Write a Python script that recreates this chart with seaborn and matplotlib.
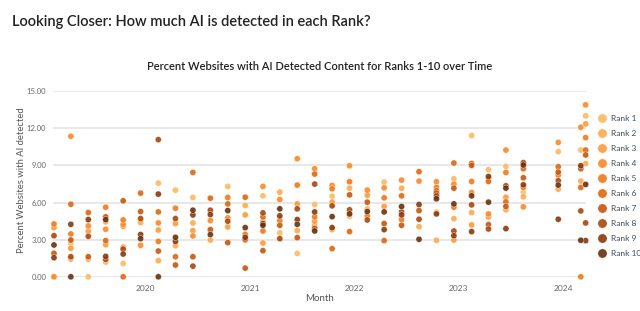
import numpy as np
import pandas as pd
import matplotlib
matplotlib.use("Agg")
import matplotlib.pyplot as plt
import matplotlib.dates as mdates
import seaborn as sns

nan = np.nan

# sample dates (every second month, then the last few snapshots)
months = ['2019-02-15', '2019-04-15', '2019-06-15', '2019-08-15', '2019-10-15', '2019-12-15',
          '2020-02-15', '2020-04-15', '2020-06-15', '2020-08-15', '2020-10-15', '2020-12-15',
          '2021-02-15', '2021-04-15', '2021-06-15', '2021-08-15', '2021-10-15', '2021-12-15',
          '2022-02-15', '2022-04-15', '2022-06-15', '2022-08-15', '2022-10-15', '2022-12-15',
          '2023-02-15', '2023-04-15', '2023-06-15', '2023-08-15', '2023-12-15',
          '2024-03-03', '2024-03-20']

rank1 = [0, 2.68, 0, 1.19, 1.08, nan, 7.57, 7.0, 6.41, nan, 7.30, nan, 6.54, 3.54, 1.89, 5.84,
         6.51, 4.89, 5.49, 7.65, nan, nan, 5.22, 7.92, 11.41, 8.65, 8.92, 6.84, 10.11, 10.24, 13.0]
rank2 = [nan, 1.43, 1.43, 4.43, 2.41, 4.38, 1.30, 2.51, 4.35, 2.97, nan, 5.76, 4.51, 6.84, 3.73, 4.19,
         3.81, 7.16, nan, nan, 7.16, 4.05, 2.95, 4.70, 5.19, nan, 5.41, 6.46, 7.08, 7.73, 9.14]
rank3 = [3.97, 2.30, 3.68, 2.59, 4.08, nan, 3.78, 4.30, 3.73, nan, 4.03, 5.0, 2.73, nan, 5.89, 4.49,
         6.03, nan, 6.59, 5.68, nan, nan, nan, 2.97, 4.19, 4.84, 6.43, nan, nan, nan, 12.35]
rank4 = [0, 11.35, 4.11, 3.84, 4.24, 2.54, 4.35, nan, 3.30, 4.54, 4.76, 2.95, 7.30, 6.24, 9.54, 8.73,
         7.38, 8.97, 7.0, 7.19, 7.81, 7.73, 7.68, 7.49, 6.81, 5.08, 10.24, 5.65, 10.86, 12.08, 13.89]
rank5 = [4.27, 3.46, nan, 5.62, 4.59, nan, 2.86, 5.54, nan, nan, 6.41, 3.43, 3.70, 4.54, 7.41, 4.84,
         7.11, 7.68, 4.92, 6.38, 4.62, nan, 7.22, 5.62, 7.70, 7.97, 8.43, 7.22, 8.22, 0, 11.24]
rank6 = [nan, 5.86, 5.19, 2.92, 0, 6.76, 5.24, 1.62, 8.43, 6.35, 5.89, 6.43, 4.84, nan, nan, 8.30,
         2.27, 3.65, nan, 2.92, 6.54, 8.49, 6.95, 9.19, 9.16, 7.70, 6.05, 8.73, 8.89, 7.22, 10.24]
rank7 = [1.89, 2.97, 1.62, 4.84, 6.14, 5.27, 2.08, 0.95, 1.62, 3.81, 2.76, 0.70, 2.11, 4.16, 3.16, 3.92,
         nan, 6.62, 6.03, 4.30, 4.16, 5.35, 6.76, 7.16, 9.0, 4.22, 5.68, 8.0, 8.46, 8.73, 9.84]
rank8 = [3.32, 1.62, 3.27, 1.41, 2.24, 4.70, 11.08, 4.70, 0.86, 5.38, 4.49, 3.05, 5.16, 3.08, 5.49, 7.49,
         5.73, 5.41, 4.59, nan, 5.24, 4.65, 6.54, 3.70, 5.81, 3.86, 7.35, 9.22, 7.76, 5.32, 4.35]
rank9 = [1.54, 4.24, 4.62, 1.65, 1.84, 3.41, 6.68, 2.86, 5.0, 5.03, nan, 3.19, 4.30, 4.92, 4.62, 5.24,
         3.97, nan, nan, 3.81, 5.0, 5.84, 5.08, 3.32, 3.65, 8.1, 3.89, 7.43, 4.65, 8.97, 2.92]
rank10 = [2.57, 0, nan, 4.62, nan, 3.08, 0, 3.19, 5.38, 3.41, 5.35, 3.97, 4.16, 5.49, 4.24, 3.70,
          4.86, 5.08, 5.27, 5.24, 5.68, 3.03, 6.30, 5.89, 6.54, 6.03, 7.16, 9.03, 7.41, 2.95, 7.46]

ranks = [rank1, rank2, rank3, rank4, rank5, rank6, rank7, rank8, rank9, rank10]
rank_names = ['Rank %d' % i for i in range(1, 11)]
colors = ['#fdb863', '#fdaa50', '#fd9a3c', '#f98a2a', '#ee7a1c', '#dc6812',
          '#c4580e', '#a6480d', '#86390d', '#66310f']

rows = []
for name, vals in zip(rank_names, ranks):
    for m, v in zip(months, vals):
        rows.append({'Month': pd.Timestamp(m), 'Pct': v, 'Rank': name})
df = pd.DataFrame(rows).dropna()

sns.set_style('white')
plt.rcParams['font.family'] = ['Lato', 'DejaVu Sans']

fig = plt.figure(figsize=(6.4, 3.11), dpi=100)
ax = fig.add_axes([0.083, 0.110, 0.833, 0.597])

sns.scatterplot(data=df, x='Month', y='Pct', hue='Rank', hue_order=rank_names,
                palette=colors, s=20, edgecolor='white', linewidth=0.3, alpha=0.9,
                clip_on=False, ax=ax)

ax.set_ylim(0, 15)
ax.set_yticks([0, 3, 6, 9, 12, 15])
ax.yaxis.set_major_formatter(matplotlib.ticker.FormatStrFormatter('%.2f'))
ax.set_xlim(pd.Timestamp('2019-02-12'), pd.Timestamp('2024-03-22'))
ax.xaxis.set_major_locator(mdates.YearLocator())
ax.xaxis.set_major_formatter(mdates.DateFormatter('%Y'))
ax.grid(axis='y', color='#e8e8e8', linewidth=1.5)
ax.set_axisbelow(True)
sns.despine(ax=ax, left=True, bottom=True)
ax.tick_params(axis='y', labelsize=5.5, colors='#666666', length=0, pad=5)
ax.tick_params(axis='x', labelsize=6, colors='#666666', length=3, color='#dddddd', pad=3)

ax.set_xlabel('Month', fontsize=7, color='#555555', labelpad=1)
ax.set_ylabel('Percent Websites with AI detected', fontsize=6.8, color='#555555')
ax.yaxis.set_label_coords(-0.05, 0.52)
ax.set_title('Percent Websites with AI Detected Content for Ranks 1-10 over Time',
             fontsize=8, color='#222222', pad=15, fontweight='semibold')

leg = ax.legend(loc='upper left', bbox_to_anchor=(0.923, 0.64), bbox_transform=fig.transFigure,
                frameon=False, fontsize=6, markerscale=1.5, handletextpad=0.05,
                labelspacing=0.95, borderaxespad=0)
for t in leg.get_texts():
    t.set_color('#3d4a5c')

fig.text(0.019, 0.93, 'Looking Closer: How much AI is detected in each Rank?',
         fontsize=10.5, color='#222222', va='center', fontweight='semibold')

fig.savefig('out.png', dpi=100)
